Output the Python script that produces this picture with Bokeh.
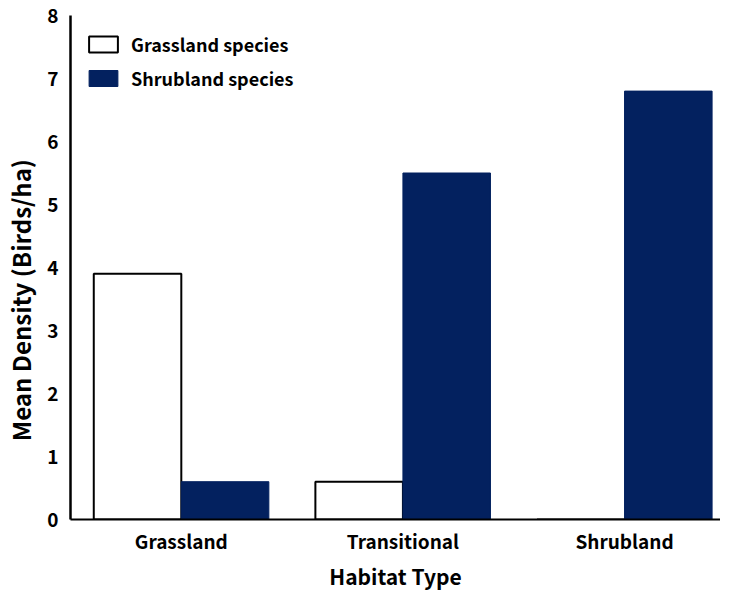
import numpy as np
from bokeh.plotting import figure
from bokeh.models import ColumnDataSource, Range1d, Legend, LegendItem, FixedTicker
from bokeh.embed import file_html
from bokeh.resources import INLINE

categories = ["Grassland", "Transitional", "Shrubland"]
grassland_species = [3.9, 0.6, 0.0]
shrubland_species = [0.6, 5.5, 6.8]
y_ticks = [0, 1, 2, 3, 4, 5, 6, 7, 8]

NAVY = "#03215f"
FONT = "Noto Sans CJK KR"
BAR_W = 0.395

centers = np.arange(len(categories)) + 0.5
src = ColumnDataSource(dict(cat=categories, xc=centers,
                            xg=centers - BAR_W / 2, xs=centers + BAR_W / 2,
                            g=grassland_species, s=shrubland_species))

p = figure(x_range=Range1d(0, 2.933), y_range=(0, 8),
           width=720, height=593, output_backend="svg", toolbar_location=None,
           min_border_left=66, min_border_right=0, min_border_top=15, min_border_bottom=60)

r1 = p.vbar(x="xg", top="g", width=BAR_W, source=src,
            fill_color="white", line_color="black", line_width=2)
r2 = p.vbar(x="xs", top="s", width=BAR_W, source=src,
            fill_color=NAVY, line_color=NAVY, line_width=1)

p.grid.visible = False
p.outline_line_color = None

p.yaxis.ticker = y_ticks
p.yaxis.axis_line_width = 2.5
p.yaxis.axis_line_color = "black"
p.yaxis.major_tick_line_color = None
p.yaxis.minor_tick_line_color = None
p.yaxis.major_label_text_font = FONT
p.yaxis.major_label_text_font_style = "bold"
p.yaxis.major_label_text_font_size = "19px"
p.yaxis.major_label_text_color = "black"
p.yaxis.major_label_standoff = 6
# trailing no-break spaces push the visible title a little below the frame centre
p.yaxis.axis_label = "Mean Density (Birds/ha)" + "\u00a0" * 12
p.yaxis.axis_label_text_font = FONT
p.yaxis.axis_label_text_font_style = "bold"
p.yaxis.axis_label_text_font_size = "24px"
p.yaxis.axis_label_text_color = "black"
p.yaxis.axis_label_standoff = 6

p.xaxis.ticker = FixedTicker(ticks=list(centers))
p.xaxis.major_label_overrides = {float(c): name for c, name in zip(centers, categories)}
p.xaxis.axis_line_width = 2
p.xaxis.axis_line_color = "black"
p.xaxis.major_tick_line_color = None
p.xaxis.minor_tick_line_color = None
p.xaxis.major_label_text_font = FONT
p.xaxis.major_label_text_font_style = "bold"
p.xaxis.major_label_text_font_size = "19px"
p.xaxis.major_label_text_color = "black"
p.xaxis.major_label_standoff = 1
p.xaxis.axis_label = "Habitat Type"
p.xaxis.axis_label_text_font = FONT
p.xaxis.axis_label_text_font_style = "bold"
p.xaxis.axis_label_text_font_size = "21px"
p.xaxis.axis_label_text_color = "black"
p.xaxis.axis_label_standoff = 4

legend = Legend(items=[LegendItem(label="Grassland species", renderers=[r1]),
                       LegendItem(label="Shrubland species", renderers=[r2])],
                location=(15, 428), padding=0, margin=0, spacing=8,
                glyph_width=36, glyph_height=20, label_height=22, label_standoff=10,
                label_text_font=FONT, label_text_font_style="bold",
                label_text_font_size="18px", label_text_color="black",
                border_line_color=None, background_fill_alpha=0)
p.add_layout(legend)

open("out.html", "w").write(file_html(p, INLINE))
